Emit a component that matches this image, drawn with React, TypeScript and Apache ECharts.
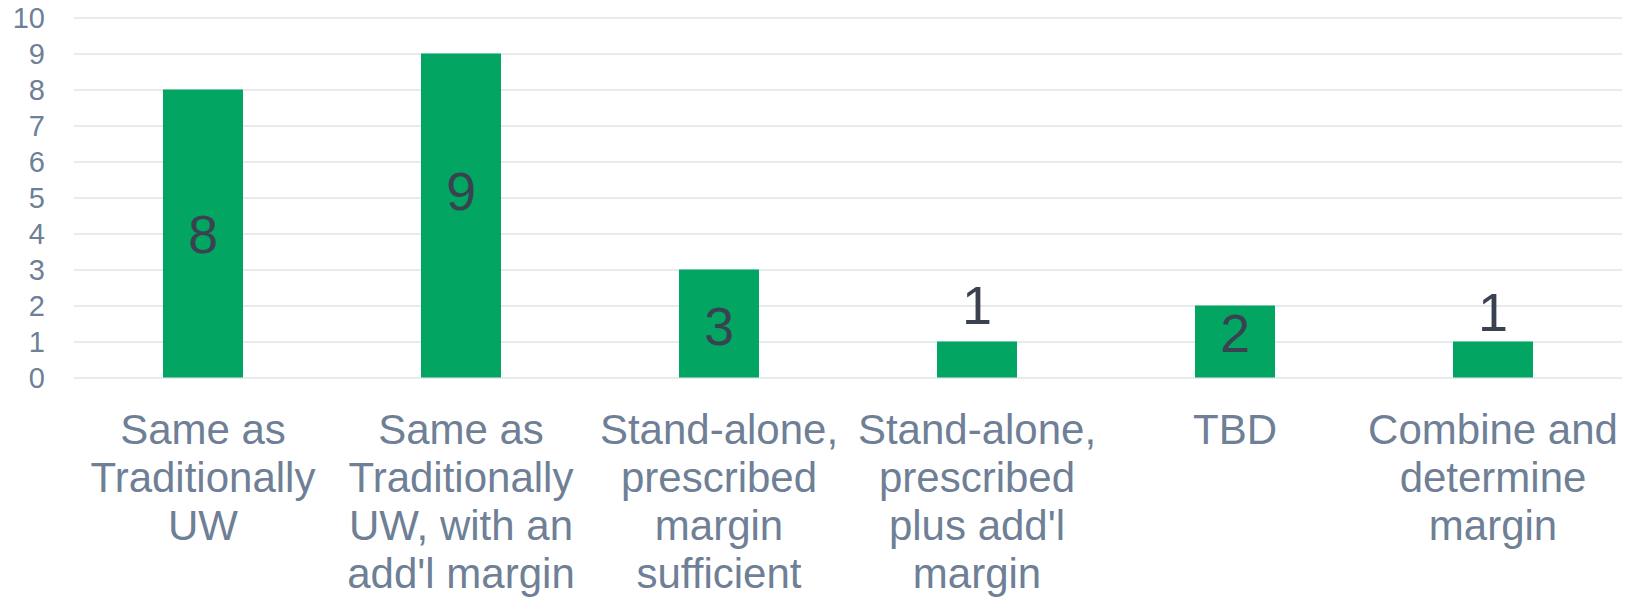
import React, { useEffect, useRef } from "react";
import * as echarts from "echarts";

const categories = [
  "Same as\nTraditionally\nUW",
  "Same as\nTraditionally\nUW, with an\nadd'l margin",
  "Stand-alone,\nprescribed\nmargin\nsufficient",
  "Stand-alone,\nprescribed\nplus add'l\nmargin",
  "TBD",
  "Combine and\ndetermine\nmargin",
];
const values = [8, 9, 3, 1, 2, 1];
const yTicks = [0, 1, 2, 3, 4, 5, 6, 7, 8, 9, 10];
// vertical nudge of each value label relative to the bar centre (px)
const labelNudge = [0, -25, 2, -55, -9, -48];

const FONT = "'Liberation Sans', Arial, Helvetica, sans-serif";

export default function App() {
  const ref = useRef<HTMLDivElement>(null);
  useEffect(() => {
    if (!ref.current) return;
    const chart = echarts.init(ref.current, null, { renderer: "svg" });
    chart.setOption({
      animation: false,
      backgroundColor: "#ffffff",
      grid: {
        left: 74,
        right: 8,
        top: 17.5,
        bottom: 219.5,
        containLabel: false,
        outerBoundsMode: "none",
      },
      xAxis: {
        type: "category",
        data: categories,
        axisLine: { show: false },
        axisTick: { show: false },
        axisLabel: {
          interval: 0,
          margin: 28,
          color: "#6E7F96",
          fontFamily: FONT,
          fontSize: 42,
          lineHeight: 48,
          align: "center",
        },
      },
      yAxis: {
        type: "value",
        min: yTicks[0],
        max: yTicks[yTicks.length - 1],
        interval: 1,
        axisLine: { show: false },
        axisTick: { show: false },
        axisLabel: {
          margin: 29,
          color: "#6E7F96",
          fontFamily: FONT,
          fontSize: 29,
        },
        splitLine: { lineStyle: { color: "#E1E4E9", width: 1.5 } },
      },
      series: [
        {
          type: "bar",
          barWidth: 80,
          data: values.map((v, i) => ({
            value: v,
            label: { offset: [0, labelNudge[i]] },
          })),
          itemStyle: { color: "#02A561" },
          label: {
            show: true,
            position: "inside",
            color: "#3A4252",
            fontFamily: FONT,
            fontSize: 54,
          },
        },
      ],
    });
    return () => chart.dispose();
  }, []);
  return (
    <div
      ref={ref}
      style={{ position: "absolute", left: 0, top: 0, width: 1630, height: 597 }}
    />
  );
}
